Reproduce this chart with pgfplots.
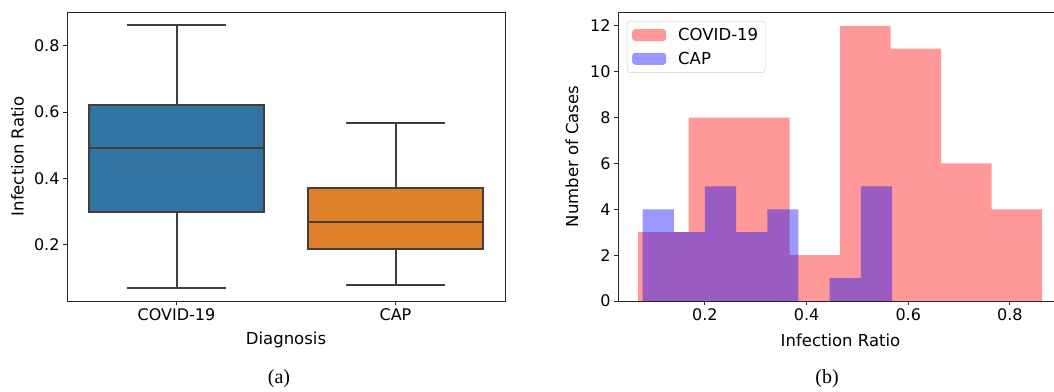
\documentclass[border=0pt]{standalone}
\usepackage{fontspec}
\setmainfont{DejaVu Sans}
\newfontfamily\capfont{Liberation Serif}
\usepackage{pgfplots}
\pgfplotsset{compat=1.18}
\definecolor{sbblue}{HTML}{3274A1}
\definecolor{sborange}{HTML}{E1812C}
\definecolor{boxline}{HTML}{3F3F3F}
\begin{document}
\begin{tikzpicture}[font=\fontsize{16}{19}\selectfont]
\pgfplotsset{
  common/.style={
    scale only axis,
    axis line style={black!85, line width=0.9pt},
    tick align=outside,
    major tick length=4pt,
    tick style={black!85, line width=0.9pt},
    xtick pos=lower, ytick pos=left,
    /pgf/number format/assume math mode=true,
    ticklabel style={font=\fontsize{16}{19}\selectfont},
    label style={font=\fontsize{16.5}{19}\selectfont},
  }
}
% (a) box plot
\begin{axis}[common,
  at={(67pt,90pt)}, anchor=south west,
  width=438pt, height=289pt,
  xmin=-0.5, xmax=1.5, ymin=0.0305, ymax=0.9015,
  xtick={0,1}, xticklabels={COVID-19,CAP},
  ytick={0.2,0.4,0.6,0.8},
  yticklabel style={/pgf/number format/.cd, fixed, fixed zerofill, precision=1},
  xlabel={Diagnosis}, ylabel={Infection Ratio},
  xlabel style={at={(axis description cs:0.5,-0.135)}, anchor=center},
  ylabel style={at={(axis description cs:-0.113,0.5)}, anchor=center},
]
% COVID-19: box (Q1 0.300, Q3 0.621), median 0.491, whiskers 0.071 / 0.862
\addplot[draw=boxline, line width=2pt, fill=sbblue] coordinates {(-0.4,0.300) (0.4,0.300) (0.4,0.621) (-0.4,0.621)} -- cycle;
\addplot[draw=boxline, line width=2pt, unbounded coords=jump] coordinates {
  (0,0.621) (0,0.862) (nan,nan) (-0.225,0.862) (0.225,0.862) (nan,nan)
  (0,0.300) (0,0.071) (nan,nan) (-0.225,0.071) (0.225,0.071) (nan,nan)
  (-0.4,0.491) (0.4,0.491)};
% CAP: box (Q1 0.187, Q3 0.371), median 0.270, whiskers 0.078 / 0.568
\addplot[draw=boxline, line width=2pt, fill=sborange] coordinates {(0.6,0.187) (1.4,0.187) (1.4,0.371) (0.6,0.371)} -- cycle;
\addplot[draw=boxline, line width=2pt, unbounded coords=jump] coordinates {
  (1,0.371) (1,0.568) (nan,nan) (0.775,0.568) (1.225,0.568) (nan,nan)
  (1,0.187) (1,0.078) (nan,nan) (0.775,0.078) (1.225,0.078) (nan,nan)
  (0.6,0.270) (1.4,0.270)};
\end{axis}
% (b) histogram
\begin{axis}[common,
  at={(618pt,90pt)}, anchor=south west,
  width=445pt, height=289pt,
  xmin=0.029, xmax=0.9044, ymin=0, ymax=12.6,
  xtick={0.2,0.4,0.6,0.8},
  xticklabel style={/pgf/number format/.cd, fixed, fixed zerofill, precision=1},
  ytick={0,2,4,6,8,10,12},
  xlabel={Infection Ratio}, ylabel={Number of Cases},
  xlabel style={at={(axis description cs:0.5,-0.135)}, anchor=center},
  ylabel style={at={(axis description cs:-0.1034,0.5)}, anchor=center},
  legend style={at={(0.0202,0.969)}, anchor=north west, draw=black!20, rounded corners=3pt,
    font=\fontsize{16.5}{19}\selectfont, row sep=6pt, inner sep=5pt},
  legend cell align=left,
  legend image code/.code={\fill[#1] (0pt,-6pt) rectangle (34pt,6pt); \path (0pt,0pt) -- (44pt,0pt);},
]
\addplot[ybar interval, fill=red, fill opacity=0.4, draw=none] coordinates {
  (0.0688,3) (0.1681,8) (0.2674,8) (0.3667,2) (0.4660,12) (0.5653,11) (0.6646,6) (0.7639,4) (0.8632,4)};
\addlegendentry{COVID-19}
\addplot[ybar interval, fill=blue, fill opacity=0.4, draw=none] coordinates {
  (0.0774,4) (0.1387,3) (0.2000,5) (0.2614,3) (0.3227,4) (0.3840,0) (0.4453,1) (0.5067,5) (0.5680,5)};
\addlegendentry{CAP}
\end{axis}
\node[font=\capfont\fontsize{20}{24}\selectfont] at (279pt,12pt) {(a)};
\node[font=\capfont\fontsize{20}{24}\selectfont] at (827pt,12pt) {(b)};
\pgfresetboundingbox
\path[use as bounding box] (0pt,0pt) rectangle (1054pt,391pt);
\end{tikzpicture}
\end{document}
